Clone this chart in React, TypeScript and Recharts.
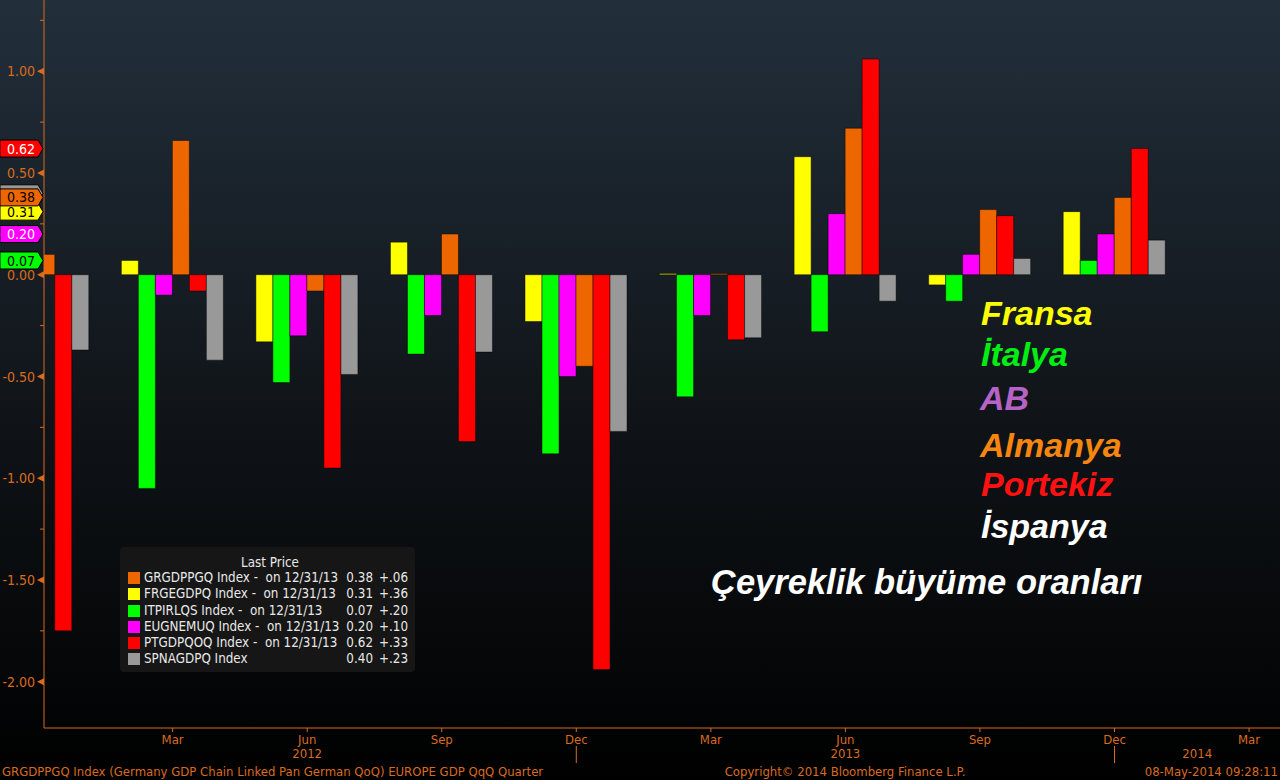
import React from 'react';
import { BarChart, Bar, XAxis, YAxis, ReferenceDot } from 'recharts';

// quarter index 0 = Dec 2011 ... 9 = Mar 2014
const quarters = [0, 1, 2, 3, 4, 5, 6, 7, 8, 9];
const monthLabels = ['Dec', 'Mar', 'Jun', 'Sep', 'Dec', 'Mar', 'Jun', 'Sep', 'Dec', 'Mar'];

const france = [null, 0.07, -0.33, 0.16, -0.23, 0.006, 0.58, -0.05, 0.31, null];
const italy = [null, -1.05, -0.53, -0.39, -0.88, -0.6, -0.28, -0.13, 0.07, null];
const eu = [null, -0.1, -0.3, -0.2, -0.5, -0.2, 0.3, 0.1, 0.2, null];
const germany = [0.1, 0.66, -0.08, 0.2, -0.45, 0.006, 0.72, 0.32, 0.38, null];
const portugal = [-1.75, -0.08, -0.95, -0.82, -1.94, -0.32, 1.06, 0.29, 0.62, null];
const spain = [-0.37, -0.42, -0.49, -0.38, -0.77, -0.31, -0.13, 0.08, 0.17, 0.4];

const yTicks = [-2, -1.75, -1.5, -1.25, -1, -0.75, -0.5, -0.25, 0, 0.25, 0.5, 0.75, 1, 1.25];
const xTicks = [1, 2, 3, 4, 5, 6, 7, 8, 9];

const X_MIN = 0.044;
const X_MAX = 9.23;
const Y_MIN = -2.2275;
const Y_MAX = 1.35;

const yearTicks = [2, 6, (8 + X_MAX) / 2];
const yearNames = ['2012', '2013', '2014'];

const AXIS = '#d96b1f';
const FONT = "'DejaVu Sans Condensed', 'DejaVu Sans', sans-serif";
const ARIAL = "'Liberation Sans', Arial, sans-serif";

const series = [
  { key: 'fr', values: france, color: '#ffff00', ticker: 'FRGEGDPQ Index -  on 12/31/13', last: 8, tagText: '#000' },
  { key: 'it', values: italy, color: '#00ff00', ticker: 'ITPIRLQS Index -  on 12/31/13', last: 8, tagText: '#000' },
  { key: 'eu', values: eu, color: '#ff00ff', ticker: 'EUGNEMUQ Index -  on 12/31/13', last: 8, tagText: '#fff' },
  { key: 'de', values: germany, color: '#ee6600', ticker: 'GRGDPPGQ Index -  on 12/31/13', last: 8, tagText: '#000' },
  { key: 'pt', values: portugal, color: '#ff0000', ticker: 'PTGDPQOQ Index -  on 12/31/13', last: 8, tagText: '#fff' },
  { key: 'es', values: spain, color: '#999999', ticker: 'SPNAGDPQ Index', last: 9, tagText: '#000' },
];

const legendOrder = ['de', 'fr', 'it', 'eu', 'pt', 'es'];
// spain's tag sits behind germany's, only its edge shows
const tagOrder = ['es', 'it', 'eu', 'fr', 'de', 'pt'];
const hiddenTagText = ['es'];

const data = quarters.map((q, i) => {
  const row: Record<string, number | null> = { q };
  series.forEach((s) => {
    row[s.key] = s.values[i];
  });
  return row;
});

const fmtChange = (v: number) => {
  const s = Math.abs(v).toFixed(2).replace(/^0/, '');
  return (v >= 0 ? '+' : '-') + s;
};

const YTick = (props: any) => {
  const { x, y, payload } = props;
  const v = payload.value as number;
  const major = Math.abs(v * 2 - Math.round(v * 2)) < 1e-6;
  if (!major) return <line x1={x - 4} x2={x} y1={y} y2={y} stroke={AXIS} />;
  return (
    <g>
      <polygon points={`${x},${y - 3.5} ${x},${y + 3.5} ${x - 7},${y}`} fill={AXIS} />
      <text x={x - 9} y={y} dy="0.36em" textAnchor="end" fill={AXIS} fontSize={14} fontFamily={FONT} style={{ fontStretch: 'condensed' }}>
        {v.toFixed(2)}
      </text>
    </g>
  );
};

const XTick = (props: any) => {
  const { x, y, payload } = props;
  const label = monthLabels[payload.value];
  return (
    <g>
      <line x1={x} x2={x} y1={y} y2={y + 4} stroke={AXIS} />
      <text x={x} y={y + 15.5} textAnchor="middle" fill={AXIS} fontSize={13} fontFamily={FONT} style={{ fontStretch: 'condensed' }}>
        {label}
      </text>
      {label === 'Dec' && <line x1={x} x2={x} y1={y + 18} y2={y + 35} stroke={AXIS} />}
    </g>
  );
};

const makeYear = (label: string) => (props: any) => {
  const { cx, cy } = props;
  return (
    <text x={cx} y={cy + 30} textAnchor="middle" fill={AXIS} fontSize={13} fontFamily={FONT} style={{ fontStretch: 'condensed' }}>
      {label}
    </text>
  );
};

const makeTag = (color: string, textColor: string, label: string | null) => (props: any) => {
  const { cx, cy } = props;
  const l = cx - 44;
  return (
    <g>
      <polygon
        points={`${l},${cy - 8.5} ${cx - 6},${cy - 8.5} ${cx - 1},${cy} ${cx - 6},${cy + 8.5} ${l},${cy + 8.5}`}
        fill={color}
        stroke="#000"
        strokeWidth={1}
      />
      {label && (
        <text x={l + 21} y={cy} dy="0.36em" textAnchor="middle" fill={textColor} fontSize={14} fontFamily={FONT} style={{ fontStretch: 'condensed' }}>
          {label}
        </text>
      )}
    </g>
  );
};

const notes = [
  { text: 'Fransa', color: '#ffff00', x: 981, y: 325 },
  { text: 'İtalya', color: '#00ee11', x: 981, y: 366 },
  { text: 'AB', color: '#b563c6', x: 980, y: 410 },
  { text: 'Almanya', color: '#f5860f', x: 980, y: 457 },
  { text: 'Portekiz', color: '#ff1111', x: 981, y: 496 },
  { text: 'İspanya', color: '#ffffff', x: 981, y: 538 },
];

export default function App() {
  return (
    <div
      style={{
        position: 'absolute',
        left: 0,
        top: 0,
        width: 1280,
        height: 780,
        overflow: 'hidden',
        background: 'linear-gradient(to bottom, #222f3b 0%, #182028 30%, #0f1317 55%, #07090b 80%, #000000 100%)',
      }}
    >
      <BarChart width={1280} height={780} data={data} margin={{ top: 0, right: 0, bottom: 0, left: 0 }} barGap={0}>
        <XAxis
          dataKey="q"
          type="number"
          domain={[X_MIN, X_MAX]}
          allowDataOverflow
          ticks={xTicks}
          interval={0}
          height={52}
          axisLine={{ stroke: AXIS }}
          tickLine={false}
          tickSize={0}
          tickMargin={0}
          tick={<XTick />}
        />
        <YAxis
          type="number"
          domain={[Y_MIN, Y_MAX]}
          allowDataOverflow
          ticks={yTicks}
          interval={0}
          width={44}
          axisLine={{ stroke: AXIS }}
          tickLine={false}
          tickSize={0}
          tickMargin={0}
          tick={<YTick />}
        />
        {series.map((s) => (
          <Bar
            key={s.key}
            dataKey={s.key}
            fill={s.color}
            barSize={17}
            stroke="rgba(0,0,0,0.45)"
            strokeWidth={1}
            isAnimationActive={false}
          />
        ))}
        {yearTicks.map((pos, i) => (
          <ReferenceDot key={'yr-' + i} x={pos} y={Y_MIN} r={1} shape={makeYear(yearNames[i])} />
        ))}
        {tagOrder.map((k) => {
          const s = series.find((d) => d.key === k)!;
          const v = s.values[s.last] as number;
          return (
            <ReferenceDot
              key={'tag-' + k}
              x={X_MIN}
              y={v}
              r={1}
              shape={makeTag(s.color, s.tagText, hiddenTagText.includes(k) ? null : v.toFixed(2))}
            />
          );
        })}
      </BarChart>

      <div
        style={{
          position: 'absolute',
          left: 120,
          top: 547,
          width: 295,
          height: 125,
          background: '#161616',
          borderRadius: 4,
          fontFamily: FONT,
          fontStretch: 'condensed',
          fontSize: 13.3,
          color: '#e8e8e8',
        }}
      >
        <div style={{ position: 'absolute', left: 0, width: 300, top: 8, textAlign: 'center', lineHeight: '16px' }}>Last Price</div>
        {legendOrder.map((k, i) => {
          const s = series.find((d) => d.key === k)!;
          const v = s.values[s.last] as number;
          const prev = s.values[s.last - 1] as number;
          const top = 23 + i * 16.25;
          return (
            <div key={k} style={{ position: 'absolute', left: 0, top, height: 16, width: 295, lineHeight: '16px', whiteSpace: 'pre' }}>
              <div style={{ position: 'absolute', left: 8, top: 2, width: 12, height: 12, background: s.color }} />
              <div style={{ position: 'absolute', left: 24 }}>{s.ticker}</div>
              <div style={{ position: 'absolute', right: 42, textAlign: 'right' }}>{v.toFixed(2)}</div>
              <div style={{ position: 'absolute', right: 7, textAlign: 'right' }}>{fmtChange(v - prev)}</div>
            </div>
          );
        })}
      </div>

      <svg width={1280} height={780} style={{ position: 'absolute', left: 0, top: 0, pointerEvents: 'none' }}>
        {notes.map((n) => (
          <text key={n.text} x={n.x} y={n.y} fill={n.color} fontSize={34} fontWeight="bold" fontStyle="italic" fontFamily={ARIAL}>
            {n.text}
          </text>
        ))}
        <text x={711} y={594} fill="#ffffff" fontSize={34.5} fontWeight="bold" fontStyle="italic" fontFamily={ARIAL}>
          Çeyreklik büyüme oranları
        </text>
        <text x={2} y={776} fill={AXIS} fontSize={13} fontFamily={FONT} style={{ fontStretch: 'condensed' }}>
          GRGDPPGQ Index (Germany GDP Chain Linked Pan German QoQ) EUROPE GDP QqQ  Quarter
        </text>
        <text x={845} y={776} textAnchor="middle" fill={AXIS} fontSize={13} fontFamily={FONT} style={{ fontStretch: 'condensed' }}>
          Copyright© 2014 Bloomberg Finance L.P.
        </text>
        <text x={1278} y={776} textAnchor="end" fill={AXIS} fontSize={13} fontFamily={FONT} style={{ fontStretch: 'condensed' }}>
          08-May-2014 09:28:11
        </text>
      </svg>
    </div>
  );
}
